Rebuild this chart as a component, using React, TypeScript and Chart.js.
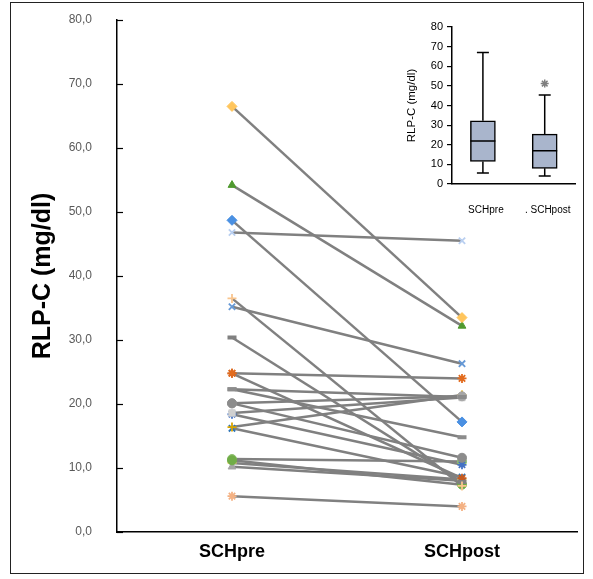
import React, { useEffect, useRef } from 'react';
import { Chart, registerables } from 'chart.js';

Chart.register(...registerables);

const FONT = '"Liberation Sans", Arial, sans-serif';

// Main chart data
const categories = ['SCHpre', 'SCHpost'];
const preValues = [66.5, 54.2, 48.7, 46.8, 36.5, 35.2, 30.4, 24.8, 24.8, 22.3, 22.3, 20.1, 20.1, 18.6, 18.4, 16.4, 16.2, 11.2, 10.2, 11.4, 10.8, 5.6];
const postValues = [33.5, 32.2, 17.2, 45.5, 7.2, 26.3, 7.8, 24.0, 8.4, 21.1, 14.8, 11.6, 21.2, 21.0, 10.5, 21.4, 8.6, 7.4, 8.0, 11.0, 8.2, 4.0];
const yTickValues = [0, 10, 20, 30, 40, 50, 60, 70, 80];

// Marker styles per series
const markerShapes = ['rectRot', 'triangle', 'rectRot', 'crossRot', 'cross', 'crossRot', 'line', 'star', 'star', 'line', 'line', 'circle', 'circle', 'rect', 'star', 'cross', 'crossRot', 'circle', 'triangle', 'circle', 'cross', 'star'];
const markerColors = ['#FFC55C', '#4F9A2F', '#4A90E2', '#B9CFF0', '#F9C58E', '#6699D6', '#808080', '#E26B1E', '#C65A1E', '#8C8C8C', '#8C8C8C', '#8C8C8C', '#A6A6A6', '#D0D0D0', '#4472C4', '#D9A400', '#2E75B6', '#70AD47', '#A5A5A5', '#8FBF6F', '#FFD966', '#F4B183'];

// Inset box plot data
const insetCategories = ['SCHpre', '. SCHpost'];
const boxMin = [5.6, 4.1];
const boxQ1 = [11.5, 8.0];
const boxMedian = [21.9, 16.9];
const boxQ3 = [32.2, 25.4];
const boxMax = [67.0, 45.3];
const outlierValues = [null, 51.2];

const fmt = (v: number) => Number(v).toFixed(1).replace('.', ',');

const innerTicksPlugin = {
  id: 'innerTicks',
  afterDraw(chart: any) {
    const y = chart.scales.y;
    const x0 = chart.chartArea.left;
    const ctx = chart.ctx;
    ctx.save();
    ctx.strokeStyle = '#000';
    ctx.lineWidth = 1.2;
    yTickValues.forEach((v) => {
      const py = Math.round(y.getPixelForValue(v)) + 0.5;
      ctx.beginPath();
      ctx.moveTo(x0, py);
      ctx.lineTo(x0 + 6, py);
      ctx.stroke();
    });
    ctx.restore();
  },
};

const boxPlugin = {
  id: 'boxWhiskers',
  afterDatasetsDraw(chart: any) {
    const xs = chart.scales.x;
    const ys = chart.scales.y;
    const ctx = chart.ctx;
    ctx.save();
    ctx.strokeStyle = '#000';
    ctx.lineWidth = 1.5;
    const half = 12.5;
    const cap = 6;
    insetCategories.forEach((_, i) => {
      const x = xs.getPixelForValue(i);
      const pMin = ys.getPixelForValue(boxMin[i]);
      const pQ1 = ys.getPixelForValue(boxQ1[i]);
      const pMed = ys.getPixelForValue(boxMedian[i]);
      const pQ3 = ys.getPixelForValue(boxQ3[i]);
      const pMax = ys.getPixelForValue(boxMax[i]);
      ctx.beginPath();
      ctx.moveTo(x, pQ3);
      ctx.lineTo(x, pMax);
      ctx.moveTo(x - cap, pMax);
      ctx.lineTo(x + cap, pMax);
      ctx.moveTo(x, pQ1);
      ctx.lineTo(x, pMin);
      ctx.moveTo(x - cap, pMin);
      ctx.lineTo(x + cap, pMin);
      ctx.moveTo(x - half, pMed);
      ctx.lineTo(x + half, pMed);
      ctx.stroke();
    });
    ctx.restore();
  },
};

function MainChart() {
  const ref = useRef<HTMLCanvasElement>(null);
  useEffect(() => {
    if (!ref.current) return;
    const lineSets = preValues.map((p, i) => ({
      type: 'line' as const,
      data: [p, postValues[i]],
      borderColor: '#808080',
      borderWidth: 2.5,
      pointRadius: 0,
      fill: false,
      order: 2,
    }));
    const markerSets = preValues.map((p, i) => {
      const shape = markerShapes[i];
      const stroked = shape === 'cross' || shape === 'crossRot' || shape === 'star' || shape === 'line';
      return {
        type: 'line' as const,
        data: [p, postValues[i]],
        showLine: false,
        pointStyle: shape,
        pointRadius: shape === 'line' ? 4.5 : shape === 'rectRot' ? 5 : 4.5,
        pointBackgroundColor: markerColors[i],
        pointBorderColor: markerColors[i],
        pointBorderWidth: shape === 'line' ? 4 : stroked ? 1.8 : 1,
        order: 1,
      };
    });
    const chart = new Chart(ref.current, {
      type: 'line',
      data: { labels: categories, datasets: [...lineSets, ...markerSets] as any },
      options: {
        animation: false,
        responsive: false,
        layout: { padding: { left: 10, right: 16, top: 20, bottom: 16 } },
        plugins: { legend: { display: false }, tooltip: { enabled: false } },
        scales: {
          x: {
            type: 'category',
            offset: true,
            grid: { display: false, drawTicks: false },
            border: { color: '#000', width: 1.5 },
            ticks: { padding: 9, color: '#000', font: { family: FONT, size: 18, weight: 'bold' } },
            afterFit: (s: any) => { s.height = 31; },
          },
          y: {
            min: 0,
            max: 80,
            grid: { display: true, drawOnChartArea: false, drawTicks: true, tickLength: 25, color: 'rgba(0,0,0,0)' },
            border: { color: '#000', width: 1.5 },
            ticks: {
              stepSize: 10,
              padding: 0,
              color: '#595959',
              font: { family: FONT, size: 12 },
              callback: (v: any) => fmt(v),
            },
            title: {
              display: true,
              text: 'RLP-C (mg/dl)',
              color: '#000',
              font: { family: FONT, size: 25, weight: 'bold' },
              padding: { top: 18, bottom: 0 },
            },
            afterFit: (s: any) => { s.width = 107; },
          },
        },
      } as any,
      plugins: [innerTicksPlugin],
    });
    return () => chart.destroy();
  }, []);
  return (
    <canvas
      ref={ref}
      width={593}
      height={579}
      style={{ position: 'absolute', left: 0, top: 0, width: 593, height: 579 }}
    />
  );
}

function InsetChart() {
  const ref = useRef<HTMLCanvasElement>(null);
  useEffect(() => {
    if (!ref.current) return;
    const chart = new Chart(ref.current, {
      type: 'bar',
      data: {
        labels: insetCategories,
        datasets: [
          {
            type: 'bar',
            data: insetCategories.map((_, i) => [boxQ1[i], boxQ3[i]]),
            backgroundColor: '#A9B5CC',
            borderColor: '#000',
            borderWidth: 1.5,
            borderSkipped: false,
            barThickness: 25,
            order: 2,
          },
          {
            type: 'line',
            data: outlierValues,
            showLine: false,
            pointStyle: 'star',
            pointRadius: 4,
            pointBorderColor: '#7F7F7F',
            pointBackgroundColor: '#7F7F7F',
            pointBorderWidth: 1.5,
            order: 1,
          },
        ] as any,
      },
      options: {
        animation: false,
        responsive: false,
        layout: { padding: { left: 0, right: 10, top: 12, bottom: 10 } },
        plugins: { legend: { display: false }, tooltip: { enabled: false } },
        scales: {
          x: {
            type: 'category',
            offset: true,
            grid: { display: false, drawTicks: false },
            border: { color: '#000', width: 1.5 },
            ticks: { padding: 20, labelOffset: 3, color: '#000', font: { family: FONT, size: 10 } },
            afterFit: (s: any) => { s.height = 31; },
          },
          y: {
            min: 0,
            max: 80,
            grid: { display: true, drawOnChartArea: false, drawTicks: true, tickLength: 5, color: '#000', lineWidth: 1.2 },
            border: { color: '#000', width: 1.5 },
            ticks: { stepSize: 10, padding: 4, color: '#000', font: { family: FONT, size: 11 } },
            title: {
              display: true,
              text: 'RLP-C (mg/dl)',
              color: '#000',
              font: { family: FONT, size: 11.5 },
              padding: { top: 5, bottom: 0 },
            },
            afterFit: (s: any) => { s.width = 52; },
          },
        },
      } as any,
      plugins: [boxPlugin],
    });
    return () => chart.destroy();
  }, []);
  return (
    <canvas
      ref={ref}
      width={190}
      height={210}
      style={{ position: 'absolute', left: 400, top: 15, width: 190, height: 210 }}
    />
  );
}

export default function App() {
  return (
    <div>
      <div
        style={{
          position: 'absolute',
          left: 10,
          top: 2,
          width: 574,
          height: 572,
          boxSizing: 'border-box',
          border: '1px solid #222',
          background: '#fff',
        }}
      />
      <MainChart />
      <InsetChart />
    </div>
  );
}
